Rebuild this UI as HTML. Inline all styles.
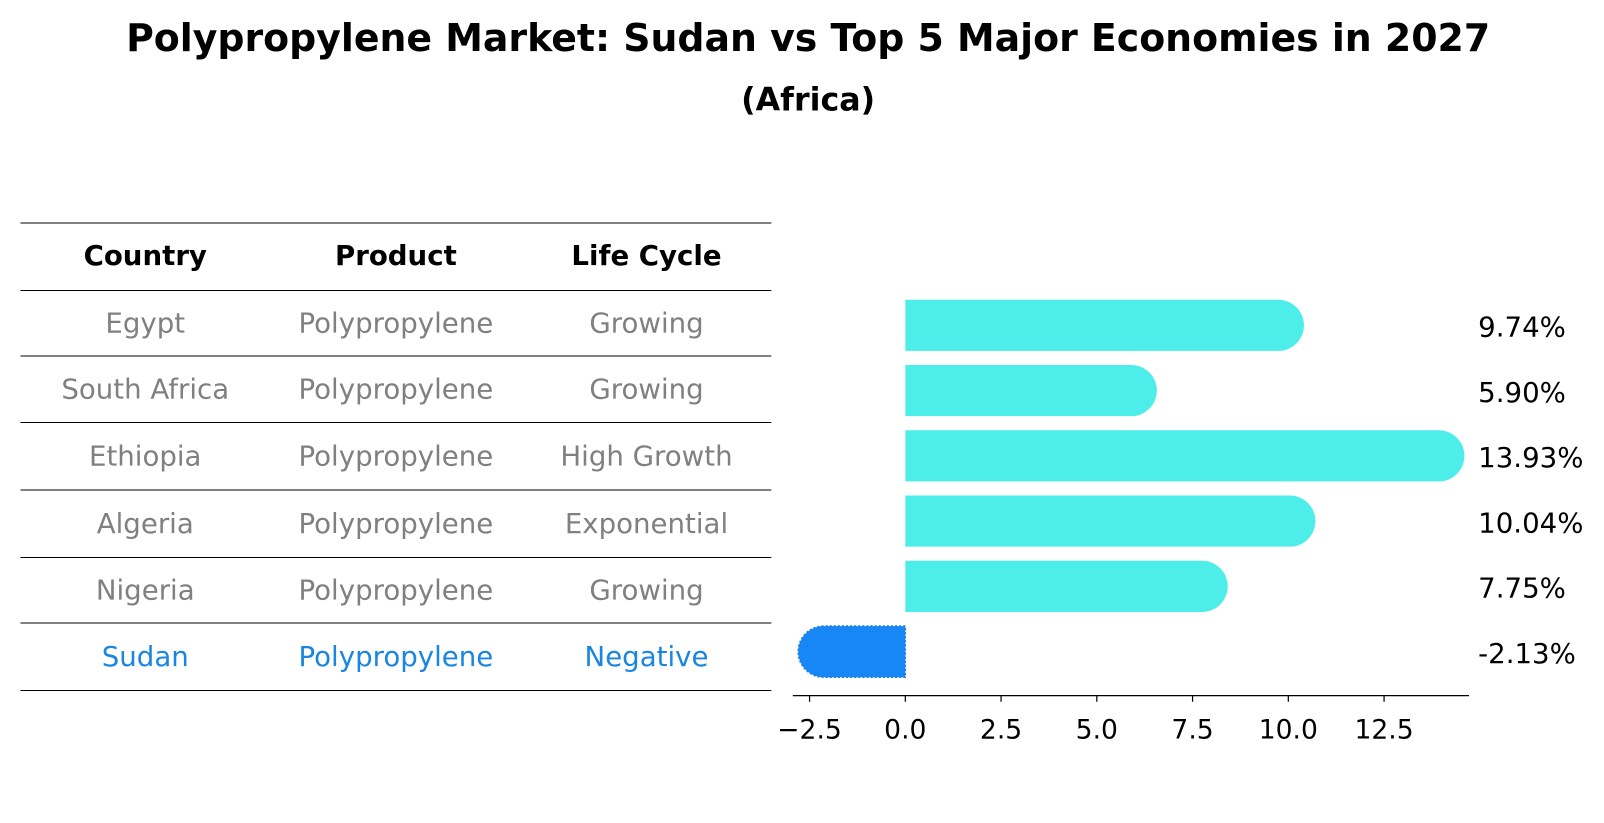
<!DOCTYPE html>
<html><head><meta charset="utf-8"><style>
html,body{margin:0;padding:0;background:#fff;}
svg{display:block;font-family:"DejaVu Sans","Liberation Sans",sans-serif;}
</style></head><body>
<svg id="chart" width="1604" height="823" viewBox="0 0 1568 804.5" xmlns="http://www.w3.org/2000/svg">
<text x="790" y="50" text-anchor="middle" font-size="37" font-weight="bold">Polypropylene Market: Sudan vs Top 5 Major Economies in 2027</text>
<text x="790" y="108" text-anchor="middle" font-size="31" font-weight="bold">(Africa)</text>
<g id="table"></g>
<g id="bars"></g>
</svg>
<script>
const countries = ["Egypt","South Africa","Ethiopia","Algeria","Nigeria","Sudan"];
const products = ["Polypropylene","Polypropylene","Polypropylene","Polypropylene","Polypropylene","Polypropylene"];
const lifeCycles = ["Growing","Growing","High Growth","Exponential","Growing","Negative"];
const growth = [9.74,5.90,13.93,10.04,7.75,-2.13];
const ticks = [-2.5,0,2.5,5,7.5,10,12.5];

const NS="http://www.w3.org/2000/svg";
function mk(tag,attrs,parent,txt){const e=document.createElementNS(NS,tag);for(const k in attrs)e.setAttribute(k,attrs[k]);if(txt!==undefined)e.textContent=txt;parent.appendChild(e);return e;}

// table
const tg=document.getElementById('table');
const lineYs=[218,284,348,413,479,545,609,675];
lineYs.forEach((y,i)=>{const l=mk('line',{x1:20,x2:754,y1:y,y2:y,stroke:'#000','stroke-width':1},tg);

});
const colX=[142,387,632];
["Country","Product","Life Cycle"].forEach((h,i)=>{const t=mk('text',{x:colX[i],y:259,'text-anchor':'middle','font-size':27,'font-weight':'bold'},tg,h);

});
countries.forEach((c,r)=>{
  const y=(lineYs[r+1]+lineYs[r+2])/2+9;
  const col=c==="Sudan"?"#1a86e0":"#808080";
  [c,products[r],lifeCycles[r]].forEach((v,i)=>{const t=mk('text',{x:colX[i],y:y,'text-anchor':'middle','font-size':27,fill:col},tg,v);
  
  });
});

// bars
const bg=document.getElementById('bars');
const x0=885, pxPerUnit=37.44;
const xs=v=>x0+v*pxPerUnit;
const rowY=i=>318+i*63.8;
const bh=50;
growth.forEach((v,i)=>{
  const cy=rowY(i), xe=xs(v), r=bh/2;
  const neg=v<0;
  const col=neg?"#1787f5":"#4deeea";
  let d;
  if(!neg){d=`M${x0},${cy-r} L${xe},${cy-r} A${r},${r} 0 0 1 ${xe},${cy+r} L${x0},${cy+r} Z`;}
  else{d=`M${x0},${cy-r} L${xe},${cy-r} A${r},${r} 0 0 0 ${xe},${cy+r} L${x0},${cy+r} Z`;}
  const p=mk('path',{d:d,fill:col},bg);
  
  
  if(neg){const o=mk('path',{d:d,fill:'none',stroke:'#1a7fe0','stroke-width':1.5,'stroke-dasharray':'2,2'},bg);
    
    }
  const t=mk('text',{x:1445,y:cy+11,'font-size':27},bg,v.toFixed(2)+'%');
  
  
});
const ax=mk('line',{x1:775,x2:1436,y1:680,y2:680,stroke:'#000','stroke-width':1.3},bg);


ticks.forEach(v=>{
  const x=xs(v);
  const tk=mk('line',{x1:x,x2:x,y1:680,y2:686,stroke:'#000','stroke-width':1.2},bg);
  
  
  const t=mk('text',{x:x,y:722,'text-anchor':'middle','font-size':26},bg,(v<0?'\u2212':'')+Math.abs(v).toFixed(1));
  
  
});
</script>
</body></html>
